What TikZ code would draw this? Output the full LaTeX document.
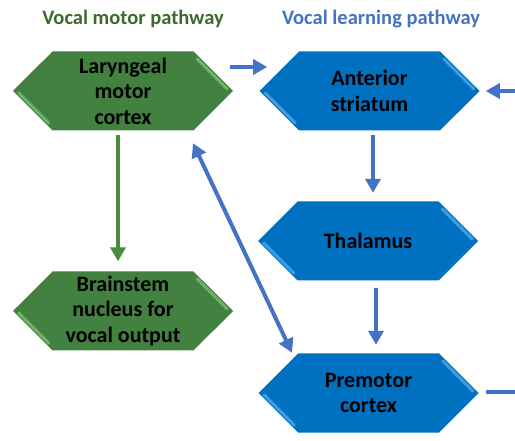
\documentclass[tikz,border=0pt]{standalone}
\usepackage{fontspec}
\setmainfont{Carlito}
\usetikzlibrary{shapes.symbols,arrows.meta,calc}
\definecolor{hgreen}{HTML}{42813F}
\definecolor{hblue}{HTML}{0070C0}
\definecolor{lgreen}{HTML}{86C47A}
\definecolor{lblue}{HTML}{5AB0EC}
\definecolor{tgreen}{HTML}{3C6A2E}
\definecolor{tblue}{HTML}{4472C4}
\definecolor{agreen}{HTML}{4A8A3E}
\definecolor{ablue}{HTML}{4472C4}
\tikzset{
  x=1pt,y=1pt,
  hexbox/.style={signal, signal to=west and east, signal pointer angle=90,
    minimum width=220pt, minimum height=79pt, inner sep=0pt, draw=none,
    align=center, font=\fontsize{22}{25.5}\selectfont\bfseries, text=black},
  gbox/.style={hexbox, fill=hgreen},
  bbox/.style={hexbox, fill=hblue},
  title/.style={font=\fontsize{20.5}{24}\selectfont\bfseries},
  garrow/.style={draw=agreen, line width=4pt, -{Triangle[width=15pt,length=14pt]}},
  barrow/.style={draw=ablue, line width=4pt, -{Triangle[width=15pt,length=14pt]}},
  bline/.style={draw=ablue, line width=4pt},
  bdarrow/.style={draw=ablue, line width=4pt, {Triangle[width=15pt,length=14pt]}-{Triangle[width=15pt,length=14pt]}},
  bev/.style={line width=3pt, line cap=round, opacity=0.7}
}
\begin{document}
\begin{tikzpicture}
\useasboundingbox (0,0) rectangle (515,440);
\fill[white] (0,0) rectangle (515,440);

\node[title, text=tgreen] (t1) at (133,421) {Vocal motor pathway};
\node[title, text=tblue] (t2) at (381,421) {Vocal learning pathway};

\node[gbox] (lar) at (123,349) {Laryngeal\\motor\\cortex};
\node[gbox] (bra) at (123,129) {Brainstem\\nucleus for\\vocal output};
\node[bbox] (ant) at (369.5,349) {Anterior\\striatum};
\node[bbox] (tha) at (368,199) {Thalamus};
\node[bbox] (pre) at (368.5,47) {Premotor\\cortex};

\foreach \n/\c in {lar/lgreen, bra/lgreen, ant/lblue, tha/lblue, pre/lblue}{
  \draw[bev, draw=\c] ($(\n.west)+(6,-2)$) -- ($(\n.west)+(36,-32)$);
  \draw[bev, draw=\c] ($(\n.east)+(-6,2)$) -- ($(\n.east)+(-36,32)$);
}

\coordinate (rin) at (515,349);
\coordinate (rout) at (515,48);

\draw[garrow] ([xshift=-5pt,yshift=-4pt]lar.south) -- ([xshift=-5pt,yshift=10pt]bra.north);
\draw[barrow] ($(lar.east)+(-3,24)$) -- ($(ant.west)+(8,24)$);
\draw[barrow] (rin) -- ([xshift=6pt]ant.east);
\draw[barrow] ([xshift=3.5pt,yshift=-4pt]ant.south) -- ([xshift=5pt,yshift=8.5pt]tha.north);
\draw[barrow] ([xshift=8pt,yshift=-7pt]tha.south) -- ([xshift=7.5pt,yshift=8.5pt]pre.north);
\draw[bline] ([xshift=7pt,yshift=1pt]pre.east) -- (rout);
\draw[bdarrow] ($(lar.south)+(70,-12.5)$) -- ($(pre.north)+(-76.5,0.5)$);
\end{tikzpicture}
\end{document}
